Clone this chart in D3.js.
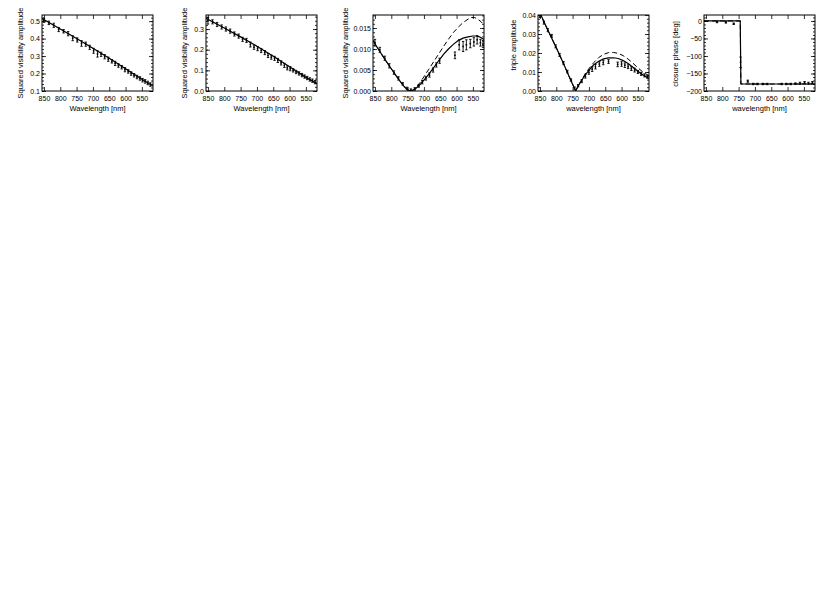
<!DOCTYPE html>
<html>
<head>
<meta charset="utf-8">
<script src="https://cdn.jsdelivr.net/npm/d3@7"></script>
<style>
  body { margin: 0; background: #fff; }
  svg { display: block; }
  text { font-family: "Liberation Sans", Arial, sans-serif; fill: #000; }
</style>
</head>
<body>
<div id="chart"></div>
<script>
// Donnees (longueur d'onde en nm, axe inverse)
var wavelengthTicks = [850, 800, 750, 700, 650, 600, 550];
var xDomain = [856, 516];

// Panneau 1 : V2 ligne de base 1
var model1 = [[856, 0.515], [800, 0.455], [750, 0.400], [700, 0.345], [650, 0.287], [600, 0.227], [550, 0.167], [516, 0.128]];
var data1 = [[850, 0.505, 0.012], [835, 0.490, 0.010], [820, 0.476, 0.012], [805, 0.452, 0.012], [790, 0.442, 0.010],
             [776, 0.428, 0.012], [762, 0.402, 0.014], [748, 0.392, 0.012], [735, 0.372, 0.016], [722, 0.368, 0.012],
             [710, 0.350, 0.012], [698, 0.330, 0.014], [686, 0.312, 0.018], [675, 0.310, 0.012], [664, 0.296, 0.012],
             [653, 0.282, 0.012], [642, 0.270, 0.010], [632, 0.258, 0.012], [622, 0.246, 0.010], [612, 0.236, 0.010],
             [602, 0.222, 0.012], [592, 0.212, 0.010], [583, 0.200, 0.010], [574, 0.190, 0.010], [565, 0.180, 0.010],
             [556, 0.172, 0.010], [548, 0.162, 0.010], [540, 0.155, 0.010], [532, 0.146, 0.010], [524, 0.137, 0.010]];

// Panneau 2 : V2 ligne de base 2
var model2 = [[856, 0.352], [800, 0.305], [750, 0.262], [700, 0.217], [650, 0.168], [600, 0.117], [550, 0.066], [516, 0.035]];
var data2 = [[850, 0.340, 0.016], [836, 0.335, 0.010], [822, 0.322, 0.010], [808, 0.310, 0.010], [795, 0.300, 0.010],
             [782, 0.290, 0.010], [769, 0.276, 0.010], [756, 0.266, 0.010], [744, 0.250, 0.010], [732, 0.245, 0.010],
             [720, 0.225, 0.012], [709, 0.212, 0.010], [698, 0.205, 0.010], [687, 0.196, 0.010], [676, 0.186, 0.010],
             [666, 0.172, 0.010], [656, 0.164, 0.010], [646, 0.158, 0.010], [636, 0.148, 0.010], [626, 0.136, 0.010],
             [616, 0.124, 0.010], [607, 0.112, 0.010], [598, 0.108, 0.010], [589, 0.100, 0.008], [580, 0.092, 0.008],
             [571, 0.085, 0.008], [562, 0.077, 0.008], [554, 0.070, 0.008], [546, 0.063, 0.008], [538, 0.056, 0.008],
             [530, 0.050, 0.008], [522, 0.043, 0.008]];

// Panneau 3 : V2 ligne de base 3 (second lobe)
var model3 = [[856, 0.0120], [840, 0.0100], [820, 0.0076], [800, 0.0053], [785, 0.0036], [770, 0.0020], [760, 0.0010],
              [750, 0.0003], [742, 0.0000], [735, 0.0001], [725, 0.0006], [712, 0.0015], [700, 0.0026], [685, 0.0040],
              [670, 0.0056], [655, 0.0072], [640, 0.0087], [625, 0.0100], [610, 0.0111], [595, 0.0120], [580, 0.0126],
              [565, 0.0129], [550, 0.0131], [540, 0.0131], [530, 0.0129], [516, 0.0123]];
var model3b = [[856, 0.0120], [840, 0.0100], [820, 0.0076], [800, 0.0053], [785, 0.0036], [770, 0.0020], [760, 0.0010],
               [750, 0.0003], [742, 0.0000], [735, 0.0002], [725, 0.0008], [712, 0.0020], [700, 0.0034], [685, 0.0052],
               [670, 0.0070], [655, 0.0088], [640, 0.0106], [625, 0.0123], [610, 0.0139], [595, 0.0152], [580, 0.0163],
               [565, 0.0171], [555, 0.0175], [545, 0.0175], [535, 0.0171], [525, 0.0165], [516, 0.0157]];
var data3 = [[850, 0.0115, 0.0008], [835, 0.0098, 0.0006], [820, 0.0078, 0.0005], [806, 0.0060, 0.0005], [792, 0.0044, 0.0004],
             [778, 0.0030, 0.0004], [765, 0.0017, 0.0003], [752, 0.0006, 0.0003], [740, 0.0002, 0.0003], [728, 0.0005, 0.0003],
             [716, 0.0012, 0.0003], [705, 0.0021, 0.0004], [694, 0.0030, 0.0004], [683, 0.0038, 0.0005], [672, 0.0050, 0.0005],
             [662, 0.0062, 0.0005], [652, 0.0072, 0.0006], [605, 0.0085, 0.0008], [592, 0.0110, 0.0012], [580, 0.0106, 0.0012],
             [570, 0.0110, 0.0012], [558, 0.0113, 0.0010], [547, 0.0117, 0.0010], [537, 0.0122, 0.0010], [527, 0.0115, 0.0008],
             [519, 0.0112, 0.0008]];

// Panneau 4 : amplitude triple
var model4 = [[856, 0.0420], [847, 0.0400], [830, 0.0335], [800, 0.0228], [780, 0.0152], [760, 0.0074], [750, 0.0036],
              [741, 0.0000], [730, 0.0035], [715, 0.0075], [700, 0.0110], [685, 0.0138], [670, 0.0157], [655, 0.0169],
              [640, 0.0174], [625, 0.0175], [610, 0.0171], [595, 0.0160], [580, 0.0145], [565, 0.0125], [550, 0.0104],
              [535, 0.0085], [516, 0.0066]];
var model4b = [[856, 0.0420], [847, 0.0400], [830, 0.0335], [800, 0.0228], [780, 0.0152], [760, 0.0074], [750, 0.0036],
               [741, 0.0000], [730, 0.0036], [715, 0.0080], [700, 0.0118], [685, 0.0150], [670, 0.0176], [655, 0.0193],
               [640, 0.0202], [625, 0.0203], [610, 0.0198], [595, 0.0186], [580, 0.0168], [565, 0.0146], [550, 0.0122],
               [535, 0.0100], [516, 0.0080]];
var data4 = [[850, 0.0395, 0.0008], [838, 0.0360, 0.0008], [826, 0.0320, 0.0008], [814, 0.0290, 0.0008], [802, 0.0235, 0.0008],
             [790, 0.0190, 0.0008], [778, 0.0148, 0.0007], [766, 0.0102, 0.0007], [755, 0.0058, 0.0006], [744, 0.0015, 0.0006],
             [733, 0.0028, 0.0006], [722, 0.0052, 0.0008], [711, 0.0078, 0.0010], [700, 0.0098, 0.0010], [690, 0.0115, 0.0012],
             [680, 0.0128, 0.0012], [668, 0.0142, 0.0012], [656, 0.0150, 0.0012], [640, 0.0155, 0.0010], [612, 0.0140, 0.0012],
             [600, 0.0142, 0.0012], [590, 0.0136, 0.0012], [580, 0.0128, 0.0010], [570, 0.0118, 0.0010], [560, 0.0110, 0.0010],
             [550, 0.0100, 0.0008], [540, 0.0090, 0.0008], [530, 0.0082, 0.0008], [521, 0.0075, 0.0008]];

// Panneau 5 : phase de cloture
var model5 = [[856, 0], [745, 0], [743, -180], [516, -180]];
var data5 = [[816, -3, 2], [789, -4, 2], [765, -8, 2], [744, -118, 15], [722, -172, 3], [706, -180, 2], [692, -180, 2],
             [676, -180, 2], [662, -180, 2], [618, -180, 2], [604, -180, 2], [590, -180, 2], [576, -179, 2],
             [562, -178, 3], [548, -176, 3], [536, -178, 3], [524, -176, 3]];

// Configuration des panneaux
var panneaux = [
    { left: 42,  yDomain: [0.1, 0.535], yTicks: [0.1, 0.2, 0.3, 0.4, 0.5], fmt: ".1f", minor: 0.02,
      yTitle: "Squared visibility amplitude", xTitle: "Wavelength [nm]", titleDx: -22, titleY: 53,
      solid: model1, dashed: null, points: data1 },
    { left: 206, yDomain: [0, 0.368], yTicks: [0, 0.1, 0.2, 0.3], fmt: ".1f", minor: 0.02,
      yTitle: "Squared visibility amplitude", xTitle: "Wavelength [nm]", titleDx: -22, titleY: 53,
      solid: model2, dashed: null, points: data2 },
    { left: 373, yDomain: [0, 0.0181], yTicks: [0, 0.005, 0.010, 0.015], fmt: ".3f", minor: 0.001,
      yTitle: "Squared visibility amplitude", xTitle: "Wavelength [nm]", titleDx: -28, titleY: 53,
      solid: model3, dashed: model3b, points: data3 },
    { left: 538, yDomain: [0, 0.04], yTicks: [0, 0.01, 0.02, 0.03, 0.04], fmt: ".2f", minor: 0.002,
      yTitle: "triple amplitude", xTitle: "wavelength [nm]", titleDx: -25, titleY: 45,
      solid: model4, dashed: model4b, points: data4 },
    { left: 704, yDomain: [-200, 17], yTicks: [-200, -150, -100, -50, 0], fmt: "d", minor: 10,
      yTitle: "closure phase [deg]", xTitle: "wavelength [nm]", titleDx: -29, titleY: 54,
      solid: model5, dashed: model5, points: data5 }
];

var largeur = 111, haut = 15, bas = 91;

var svg = d3.select("#chart").append("svg").attr("width", 830).attr("height", 594);

panneaux.forEach(function (p, i) {
    var x = d3.scaleLinear().domain(xDomain).range([p.left, p.left + largeur]);
    var y = d3.scaleLinear().domain(p.yDomain).range([bas, haut]);
    var g = svg.append("g").attr("class", "panneau");

    // Clip
    var clipId = "clip" + i;
    svg.append("clipPath").attr("id", clipId).append("rect")
        .attr("x", p.left).attr("y", haut).attr("width", largeur).attr("height", bas - haut);

    // Axes (style IDL : graduations vers l'interieur des quatre cotes)
    var yMinor = d3.range(Math.ceil(p.yDomain[0] / p.minor) * p.minor, p.yDomain[1], p.minor);

    function xAxe (orient, pos, ticks, size, labels) {
        var a = (orient === "bottom" ? d3.axisBottom(x) : d3.axisTop(x))
            .tickValues(ticks).tickSizeInner(-size).tickSizeOuter(0);
        if (!labels) a.tickFormat("");
        else a.tickFormat(d3.format("d")).tickPadding(5);
        return g.append("g").attr("transform", "translate(0," + pos + ")").call(a);
    }
    function yAxe (orient, pos, ticks, size, labels) {
        var a = (orient === "left" ? d3.axisLeft(y) : d3.axisRight(y))
            .tickValues(ticks).tickSizeInner(-size).tickSizeOuter(0);
        if (!labels) a.tickFormat("");
        else a.tickFormat(d3.format(p.fmt)).tickPadding(2);
        return g.append("g").attr("transform", "translate(" + pos + ",0)").call(a);
    }

    var axes = [
        xAxe("bottom", bas, wavelengthTicks, 4, true),
        xAxe("top", haut, wavelengthTicks, 4, false),
        yAxe("left", p.left, p.yTicks, 4, true),
        yAxe("right", p.left + largeur, p.yTicks, 4, false),
        yAxe("left", p.left, yMinor, 2, false),
        yAxe("right", p.left + largeur, yMinor, 2, false)
    ];
    axes.forEach(function (ax) {
        ax.select(".domain").remove();
        ax.selectAll("line").attr("stroke", "#000").attr("stroke-width", 0.8);
        ax.selectAll("text").style("font-size", "7px").style("font-family", "Liberation Sans, Arial, sans-serif");
    });

    // Cadre
    g.append("rect").attr("x", p.left).attr("y", haut).attr("width", largeur).attr("height", bas - haut)
        .attr("fill", "none").attr("stroke", "#000").attr("stroke-width", 1);

    // Titres
    g.append("text").attr("x", p.left + largeur / 2).attr("y", 111)
        .attr("text-anchor", "middle").style("font-size", "7.5px").text(p.xTitle);
    g.append("text")
        .attr("transform", "translate(" + (p.left + p.titleDx) + "," + p.titleY + ") rotate(-90)")
        .attr("text-anchor", "middle").attr("dy", "0.35em").style("font-size", "7.5px").text(p.yTitle);

    var trace = d3.line().x(function (d) { return x(d[0]); }).y(function (d) { return y(d[1]); });
    var zone = g.append("g").attr("clip-path", "url(#" + clipId + ")");

    // Barres d'erreur
    var barres = zone.selectAll("g.barre").data(p.points).enter().append("g").attr("class", "barre");
    barres.append("line")
        .attr("x1", function (d) { return x(d[0]); }).attr("x2", function (d) { return x(d[0]); })
        .attr("y1", function (d) { return y(d[1] - d[2]); }).attr("y2", function (d) { return y(d[1] + d[2]); })
        .attr("stroke", "#000").attr("stroke-width", 0.9);
    [-1, 1].forEach(function (s) {
        barres.append("line")
            .attr("x1", function (d) { return x(d[0]) - 1.2; }).attr("x2", function (d) { return x(d[0]) + 1.2; })
            .attr("y1", function (d) { return y(d[1] + s * d[2]); }).attr("y2", function (d) { return y(d[1] + s * d[2]); })
            .attr("stroke", "#000").attr("stroke-width", 0.9);
    });
    barres.append("rect")
        .attr("x", function (d) { return x(d[0]) - 0.8; }).attr("y", function (d) { return y(d[1]) - 0.8; })
        .attr("width", 1.6).attr("height", 1.6).attr("fill", "#000");

    // Modeles
    if (p.dashed) {
        zone.append("path").datum(p.dashed).attr("d", trace)
            .attr("fill", "none").attr("stroke", "#000").attr("stroke-width", 1).attr("stroke-dasharray", "5,3");
    }
    zone.append("path").datum(p.solid).attr("d", trace)
        .attr("fill", "none").attr("stroke", "#000").attr("stroke-width", 1.2);
});
</script>
</body>
</html>
